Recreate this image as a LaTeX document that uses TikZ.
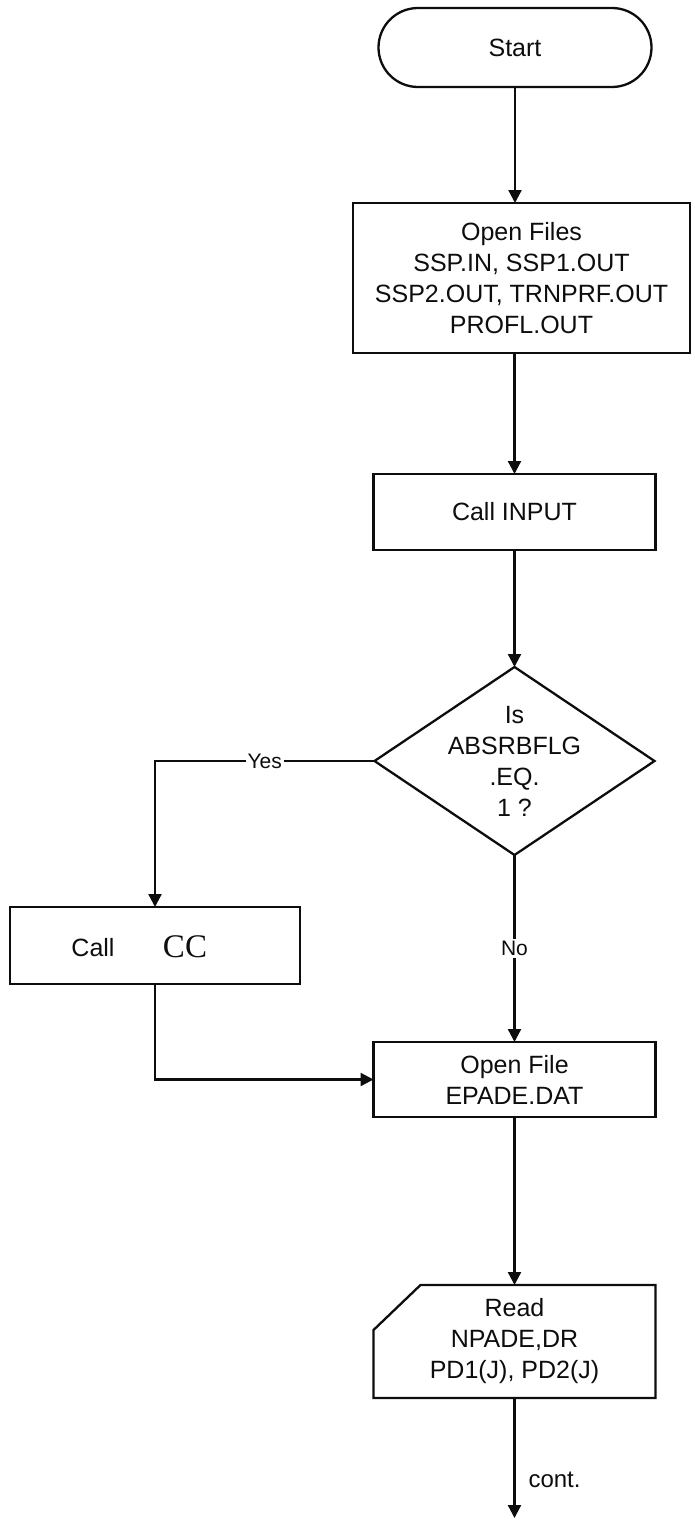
\documentclass[tikz,border=0pt]{standalone}
\usepackage{fontspec}
\setmainfont{Liberation Sans}
\newfontfamily\serifcc{Liberation Serif}
\usetikzlibrary{arrows.meta,shapes.geometric,shapes.misc}
\definecolor{ChartInk}{gray}{0.05}
\tikzset{
    chart/diagram/.style={
        font=\fontsize{12.5}{15.5}\selectfont,
        draw=ChartInk,
        text=ChartInk,
        line width=1.15pt,
        every node/.style={inner sep=2pt, outer sep=0pt}
    },
    chart/terminal/.style={
        rounded rectangle, draw=ChartInk, line width=1.15pt,
        minimum width=140.5pt, minimum height=39.5pt
    },
    chart/process/.style={
        rectangle, draw=ChartInk, line width=1.15pt, align=center,
        minimum width=141pt, minimum height=38pt
    },
    chart/decision/.style={
        diamond, draw=ChartInk, line width=1.15pt, inner sep=0pt,
        minimum width=140pt, minimum height=94pt
    },
    chart/input/.style={align=center, minimum width=141pt, minimum height=56.5pt},
    chart/outline/.style={draw=ChartInk, line width=1.15pt, line join=miter},
    chart/flow/.style={
        draw=ChartInk, line width=1.15pt,
        -{Triangle[length=6.5pt, width=6.5pt]}
    },
    chart/tag/.style={fill=white, inner sep=1pt, font=\fontsize{10.5}{12}\selectfont}
}
\begin{document}
\begin{tikzpicture}[chart/diagram, x=0.5pt, y=-0.5pt]
    \useasboundingbox (0,0) rectangle (695,1520);
    \node[chart/terminal] (start) at (515,47.5) {Start};
    \node[chart/process, minimum width=168.5pt, minimum height=75pt] (files) at (521.5,278)
        {Open Files\\SSP.IN, SSP1.OUT\\SSP2.OUT, TRNPRF.OUT\\PROFL.OUT};
    \node[chart/process] (input) at (514.5,512) {Call INPUT};
    \node[chart/decision] (flag) at (514.5,761) {};
    \node[align=center] (flagtext) at (flag) {Is\\ABSRBFLG\\.EQ.\\1 ?};
    \node[chart/process, minimum width=145pt, minimum height=38.5pt] (callcc) at (155,945.5) {};
    \node[anchor=base] (callword) at (93,956) {Call};
    \node[anchor=base, font=\serifcc\fontsize{16.5}{18}\selectfont] (ccword) at (185,957) {CC};
    \node[chart/process, minimum height=37.5pt] (open) at (514.5,1079.5) {Open File\\EPADE.DAT};
    \node[chart/input] (read) at (514.5,1341.5) {Read\\NPADE,DR\\PD1(J), PD2(J)};
    \draw[chart/outline] ([xshift=23.5pt]read.north west) -- (read.north east)
        -- (read.south east) -- (read.south west)
        -- ([yshift=-22.5pt]read.north west) -- cycle;
    \coordinate (cont) at (514.5,1518);
    % connectors
    \draw[chart/flow] (start.south) -- (start.south |- files.north);
    \draw[chart/flow] (input.north |- files.south) -- (input.north);
    \draw[chart/flow] (input.south) -- (flag.north);
    \draw[chart/flow] (flag.west) -| node[chart/tag, pos=0.25] {Yes} (callcc.north);
    \draw[chart/flow] (flag.south) -- node[chart/tag] {No} (open.north);
    \draw[chart/flow] (callcc.south) |- (open.west);
    \draw[chart/flow] (open.south) -- (read.north);
    \draw[chart/flow] (read.south) -- node[pos=0.68, anchor=west, inner sep=0pt, xshift=7pt,
        font=\fontsize{12}{14}\selectfont] {cont.} (cont);
\end{tikzpicture}
\end{document}
